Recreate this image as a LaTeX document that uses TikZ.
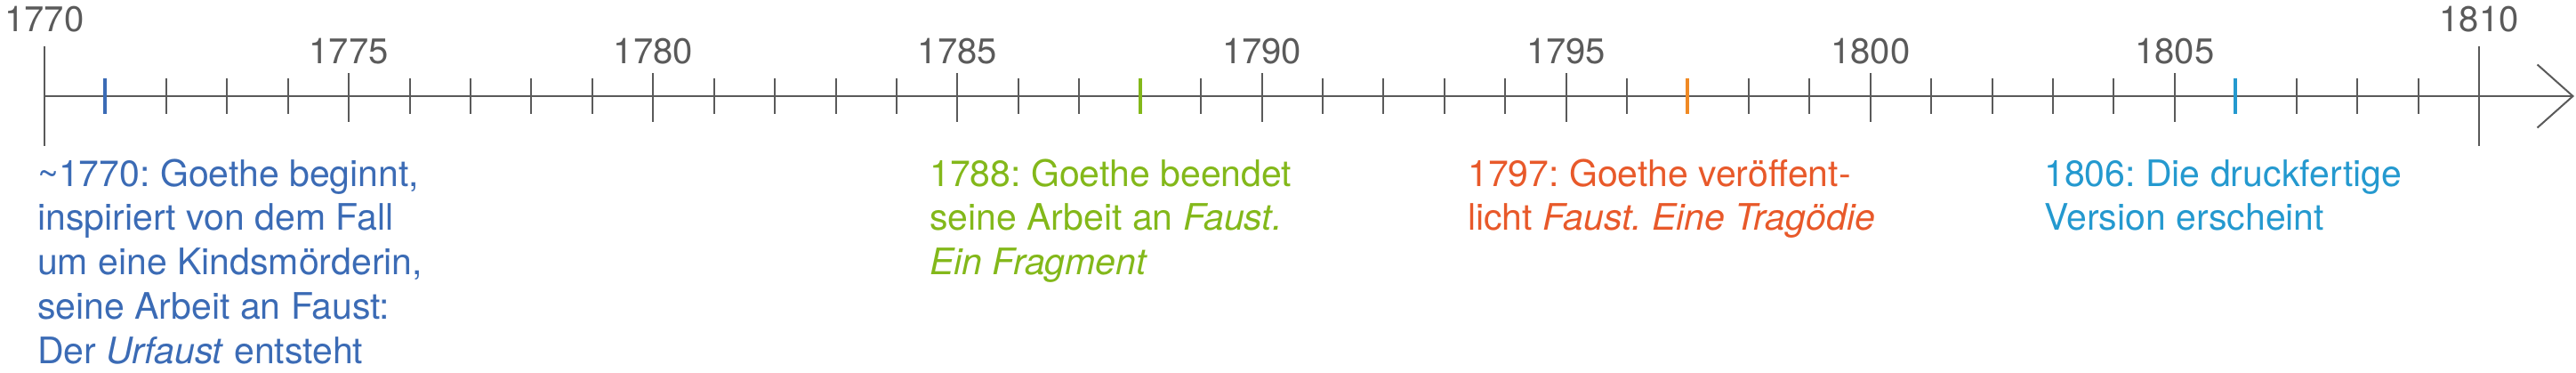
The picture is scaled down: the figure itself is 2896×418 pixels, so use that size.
\documentclass[tikz,border=0pt]{standalone}
\usepackage{fontspec}
\setmainfont{TeX Gyre Heros}
\definecolor{axisgray}{RGB}{90, 90, 90}
\definecolor{fblue}{RGB}{59, 107, 181}
\definecolor{fgreen}{RGB}{131, 184, 26}
\definecolor{forange}{RGB}{232, 89, 42}
\definecolor{ftick}{RGB}{240, 138, 36}
\definecolor{fcyan}{RGB}{36, 153, 207}
\usepackage{tikz}
\usetikzlibrary{arrows.meta}
\usetikzlibrary{positioning}
\frenchspacing

\begin{document}
\begin{tikzpicture}[
      x=1pt, y=-1pt,
      axis/.style={draw=axisgray, line width=2pt},
      tick/.style={draw=axisgray, line width=2pt},
      eventtick/.style={line width=4pt},
      year/.style={text=axisgray, inner sep=0pt, anchor=base,
                   font=\fontsize{40}{48}\selectfont},
      event/.style={inner sep=0pt, anchor=base west, align=left,
                    font=\fontsize{41}{49.75}\selectfont},
      >={Straight Barb[length=40pt, width=71pt, line width=2pt]}
    ]
      \useasboundingbox (0,0) rectangle (2896,418);

      % axis with ticks
      \coordinate (start) at (50,108);
      \coordinate (tip) at (2894,108);
      \draw [axis, ->] (start) -- (tip);
      \foreach \i in {1,...,39}
        \draw [tick] (50+\i*68.425,88) -- (50+\i*68.425,128);
      \foreach \i in {5,10,...,35}
        \draw [tick] (50+\i*68.425,82) -- (50+\i*68.425,137);
      \draw [tick] (50,52) -- (50,164);
      \draw [tick] (50+40*68.425,52) -- (50+40*68.425,164);

      % years
      \node [year] (y1770) at (50,35) {1770};
      \node [year] (y1810) at (50+40*68.425,35) {1810};
      \foreach \i [evaluate=\i as \yr using int(1770+\i)] in {5,10,...,35}
        \node [year] (y\yr) at (50+\i*68.425,71) {\yr};

      % events (anchored at the baseline of the last line)
      \draw [eventtick, fblue] (50+1*68.425,88) -- (50+1*68.425,128);
      \draw [eventtick, fgreen] (50+18*68.425,88) -- (50+18*68.425,128);
      \draw [eventtick, ftick] (50+27*68.425,88) -- (50+27*68.425,128);
      \draw [eventtick, fcyan] (50+36*68.425,88) -- (50+36*68.425,128);

      \node [event, text=fblue] (urfaust) at (42,408)
            {\textasciitilde1770: Goethe beginnt,\\
             inspiriert von dem Fall\\
             um eine Kindsmörderin,\\
             seine Arbeit an Faust:\\
             Der \textit{Urfaust} entsteht};
      \node [event, text=fgreen] (fragment) at (1045,308.5)
            {1788: Goethe beendet\\
             seine Arbeit an \textit{Faust.}\\
             \textit{Ein Fragment}};
      \node [event, text=forange] (tragoedie) at (1650,258.75)
            {1797: Goethe veröffent-\\
             licht \textit{Faust. Eine Tragödie}};
      \node [event, text=fcyan] (druck) at (2298,258.75)
            {1806: Die druckfertige\\
             Version erscheint};
    \end{tikzpicture}
\end{document}
